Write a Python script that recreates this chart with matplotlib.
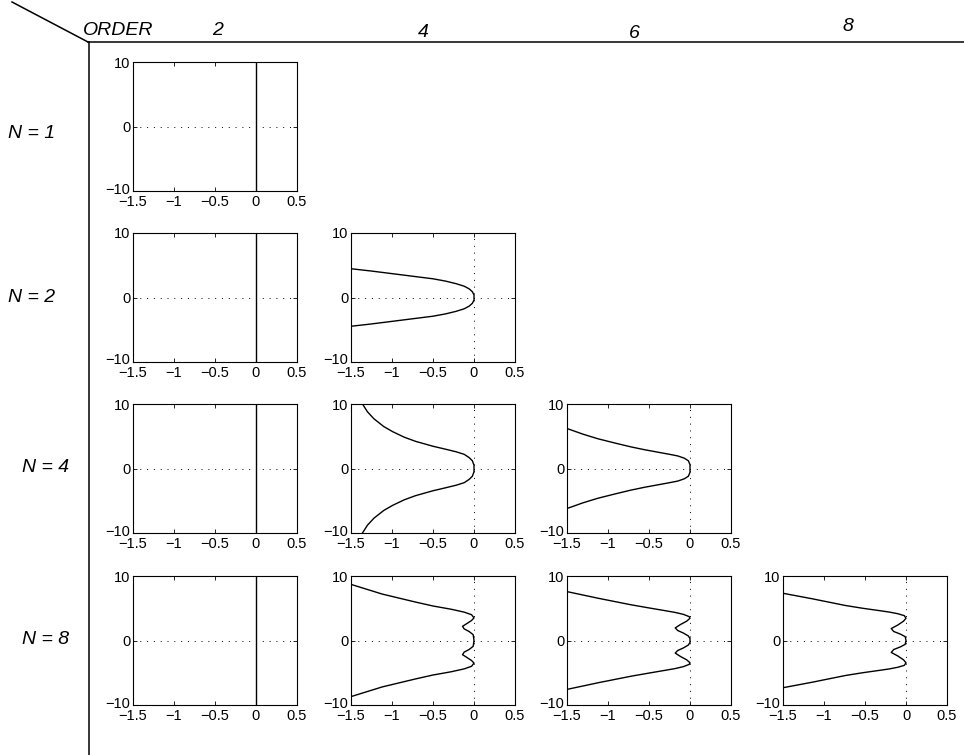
import matplotlib
matplotlib.use('Agg')
import matplotlib.pyplot as plt
from matplotlib.lines import Line2D
from matplotlib.transforms import ScaledTranslation

plt.rcParams['font.family'] = ['Liberation Sans', 'DejaVu Sans']

orders = [2, 4, 6, 8]
row_n = [1, 2, 4, 8]
row_labels = ['N = 1', 'N = 2', 'N = 4', 'N = 8']
x_ticks = [-1.5, -1, -0.5, 0, 0.5]
y_ticks = [-10, 0, 10]

# upper half of each boundary, mirrored below y=0
order2_x = [0, 0]
order2_y = [10, 0]

n2_o4_x = [-1.5, -1.25, -1.0, -0.75, -0.5, -0.35, -0.22, -0.12, -0.06, -0.02, 0, 0]
n2_o4_y = [4.46, 4.1, 3.7, 3.3, 2.9, 2.55, 2.15, 1.75, 1.35, 0.9, 0.4, 0]

n4_o4_x = [-1.36, -1.3, -1.22, -1.1, -0.99, -0.85, -0.71, -0.5, -0.35, -0.22, -0.12, -0.06, -0.02, 0, 0]
n4_o4_y = [10, 8.8, 7.7, 6.5, 5.7, 4.85, 4.2, 3.45, 3.0, 2.6, 2.2, 1.7, 1.2, 0.5, 0]

n4_o6_x = [-1.5, -1.3, -1.12, -0.9, -0.72, -0.55, -0.40, -0.25, -0.15, -0.07, -0.02, 0, 0]
n4_o6_y = [6.2, 5.3, 4.6, 3.9, 3.35, 2.9, 2.55, 2.2, 1.95, 1.6, 1.2, 0.6, 0]

n8_o4_x = [-1.5, -1.12, -0.71, -0.5, -0.28, -0.12, -0.03, 0, -0.03, -0.09, -0.14, -0.12, -0.06, -0.01, 0]
n8_o4_y = [8.7, 7.2, 5.95, 5.35, 4.85, 4.4, 4.0, 3.5, 3.1, 2.6, 2.2, 1.8, 1.4, 0.9, 0]

n8_o6_x = [-1.5, -1.12, -0.72, -0.5, -0.32, -0.18, -0.08, -0.01, 0, -0.04, -0.12, -0.18, -0.15, -0.08, -0.02, 0, 0]
n8_o6_y = [7.58, 6.55, 5.54, 5.05, 4.66, 4.35, 4.05, 3.7, 3.45, 3.0, 2.45, 1.95, 1.55, 1.15, 0.7, 0.3, 0]

n8_o8_x = [-1.5, -1.14, -0.74, -0.53, -0.34, -0.2, -0.1, -0.02, 0, -0.03, -0.1, -0.18, -0.15, -0.07, -0.01, 0]
n8_o8_y = [7.32, 6.46, 5.43, 5.0, 4.66, 4.4, 4.15, 3.85, 3.45, 3.0, 2.4, 1.85, 1.4, 1.0, 0.6, 0]

curves = {
    (1, 2): (order2_x, order2_y),
    (2, 2): (order2_x, order2_y),
    (2, 4): (n2_o4_x, n2_o4_y),
    (4, 2): (order2_x, order2_y),
    (4, 4): (n4_o4_x, n4_o4_y),
    (4, 6): (n4_o6_x, n4_o6_y),
    (8, 2): (order2_x, order2_y),
    (8, 4): (n8_o4_x, n8_o4_y),
    (8, 6): (n8_o6_x, n8_o6_y),
    (8, 8): (n8_o8_x, n8_o8_y),
}

W, H = 964, 755
fig = plt.figure(figsize=(W / 100, H / 100), dpi=100)

col_left = [133, 351, 567, 783]
row_top = [62, 233, 404, 576]
ax_w, ax_h = 164, 129

for i, n in enumerate(row_n):
    for j, order in enumerate(orders):
        if (n, order) not in curves:
            continue
        ax = fig.add_axes([col_left[j] / W, 1 - (row_top[i] + ax_h) / H, ax_w / W, ax_h / H])
        cx, cy = curves[(n, order)]
        full_x = list(cx) + list(cx[::-1])
        full_y = list(cy) + [-v for v in cy[::-1]]
        ax.axhline(0, color='k', lw=0.7, dashes=(1, 6))
        ax.axvline(0, color='k', lw=0.7, dashes=(1, 6))
        ax.plot(full_x, full_y, color='k', lw=1.0)
        ax.set_xlim(-1.5, 0.5)
        ax.set_ylim(-10, 10)
        ax.set_xticks(x_ticks)
        ax.set_xticklabels(['\u22121.5', '\u22121', '\u22120.5', '0', '0.5'])
        ax.set_yticks(y_ticks)
        ax.set_yticklabels(['\u221210', '0', '10'])
        ax.tick_params(direction='in', top=True, right=True, length=3, width=0.6,
                       labelsize=10.5, pad=2)
        ax.tick_params(axis='x', pad=3)
        # lift the -10 label a little, like the original
        lab = ax.get_yticklabels()[0]
        lab.set_transform(lab.get_transform() + ScaledTranslation(0, 3 / 100, fig.dpi_scale_trans))
        for s in ax.spines.values():
            s.set_linewidth(0.8)

# header lines
fig.add_artist(Line2D([12 / W, 88 / W], [1 - 2 / H, 1 - 42 / H], color='k', lw=1.1))
fig.add_artist(Line2D([88 / W, 1.0], [1 - 42 / H, 1 - 42 / H], color='k', lw=1.1))
fig.add_artist(Line2D([89 / W, 89 / W], [1 - 42 / H, 0.0], color='k', lw=1.1))

fig.text(83 / W, 1 - 35 / H, 'ORDER', fontsize=14, style='italic', ha='left', va='baseline')
order_pos = [(218, 35), (423, 37), (634, 38), (848, 31)]
for order, (px, py) in zip(orders, order_pos):
    fig.text(px / W, 1 - py / H, str(order), fontsize=14, style='italic',
             ha='center', va='baseline')

label_pos = [(8, 133), (8, 297), (22, 468), (22, 640)]
for lab, (px, py) in zip(row_labels, label_pos):
    fig.text(px / W, 1 - py / H, lab, fontsize=14, style='italic', ha='left', va='center')

fig.savefig('out.png', dpi=100)
